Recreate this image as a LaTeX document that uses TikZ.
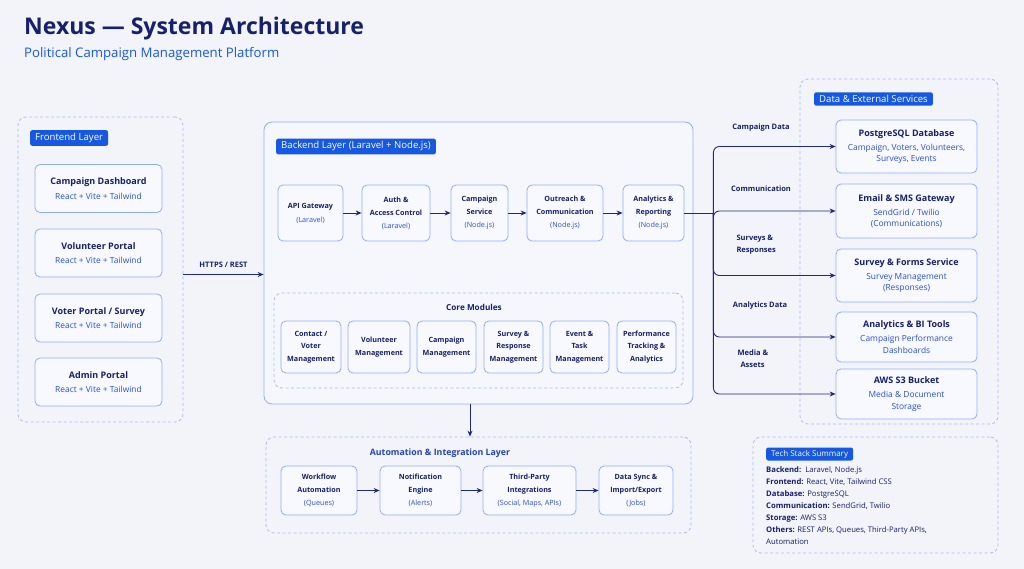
\documentclass[tikz,border=0pt]{standalone}
\usepackage{fontspec}
\setmainfont{Open Sans}
\usetikzlibrary{arrows.meta,calc}
\definecolor{navy}{HTML}{16206B}
\definecolor{accent}{HTML}{1758E2}
\definecolor{bordr}{HTML}{8EAEF4}
\definecolor{dashc}{HTML}{A6BEF3}
\definecolor{bg}{HTML}{F3F4FA}
\definecolor{boxfill}{HTML}{F8F9FE}
\definecolor{subblue}{HTML}{2A4FD6}
\definecolor{arrowc}{HTML}{1E2A78}
\tikzset{
  card/.style={draw=bordr, line width=0.8pt, rounded corners=5pt, fill=boxfill, align=center, inner sep=1pt, text=navy},
  region/.style={draw=dashc, line width=0.8pt, dash pattern=on 3pt off 2.5pt, rounded corners=8pt},
  solidregion/.style={draw=bordr, line width=0.8pt, rounded corners=8pt},
  tag/.style={fill=accent, text=white, rounded corners=2pt, font=\fontsize{9.6}{11}\selectfont, inner xsep=5pt, inner ysep=3pt, anchor=west},
  arr/.style={draw=arrowc, line width=0.9pt, -{Stealth[length=6pt,width=5pt]}},
  lbl/.style={text=navy, font=\fontsize{7.5}{12}\selectfont\bfseries, align=left},
  svc/.style={card, font=\fontsize{7.2}{13}\selectfont},
  mod/.style={card, font=\fontsize{7.2}{12.5}\selectfont},
}
\newcommand{\ttl}[1]{{\fontsize{9}{13}\selectfont\bfseries #1}}
\newcommand{\sub}[1]{{\fontsize{8.4}{13}\selectfont\color{subblue}#1}}
\newcommand{\bl}[1]{{\color{subblue}#1}}
\begin{document}
\begin{tikzpicture}[x=1pt,y=-1pt]
\useasboundingbox[fill=bg] (0,0) rectangle (1024,569);
% titles
\node[anchor=base west, inner sep=0, text=navy, font=\fontsize{23}{27}\selectfont\bfseries] (title) at (24,35) {Nexus — System Architecture};
\node[anchor=base west, inner sep=0, text=accent, font=\fontsize{13.2}{15}\selectfont] (subtitle) at (24,58) {Political Campaign Management Platform};

% regions
\node[region, minimum width=165, minimum height=305] (front) at (100.5,269.5) {};
\node[solidregion, fill=boxfill!60!bg, minimum width=429, minimum height=282] (back) at (478.5,263) {};
\node[region, minimum width=409, minimum height=95] (core) at (478.5,340.5) {};
\node[region, minimum width=425, minimum height=96] (auto) at (478.5,485) {};
\node[region, minimum width=198, minimum height=345] (data) at (899,251.5) {};
\node[region, minimum width=245, minimum height=116] (tech) at (875.5,495) {};

% tags
\node[tag] (ftag) at (30,138) {Frontend Layer};
\node[tag] (btag) at (276,146.5) {Backend Layer (Laravel + Node.js)};
\node[tag] (dtag) at (814,99) {Data \& External Services};
\node[tag, font=\fontsize{8}{9}\selectfont, inner ysep=2.5pt] (ttag) at (766,454) {Tech Stack Summary};

% frontend cards
\foreach \n/\y/\t in {fe1/188.5/{Campaign Dashboard}, fe2/253/{Volunteer Portal}, fe3/318/{Voter Portal / Survey}, fe4/382/{Admin Portal}}{
  \node[card, minimum width=127, minimum height=48] (\n) at (98.5,\y) {\ttl{\t}\\[2.5pt]\sub{React + Vite + Tailwind}};
}

% backend services
\node[svc, minimum width=65, minimum height=56] (api) at (310.5,213) {\textbf{API Gateway}\\[1pt]\bl{(Laravel)}};
\node[svc, minimum width=68, minimum height=56] (auth) at (396,213) {\textbf{Auth \&}\\\textbf{Access Control}\\\bl{(Laravel)}};
\node[svc, minimum width=57, minimum height=56] (camp) at (479.5,213) {\textbf{Campaign}\\\textbf{Service}\\\bl{(Node.js)}};
\node[svc, minimum width=76, minimum height=56] (outr) at (565,213) {\textbf{Outreach \&}\\\textbf{Communication}\\\bl{(Node.js)}};
\node[svc, minimum width=61, minimum height=56] (anal) at (653.5,213) {\textbf{Analytics \&}\\\textbf{Reporting}\\\bl{(Node.js)}};
\draw[arr] (api) -- (auth);
\draw[arr] (auth) -- (camp);
\draw[arr] (camp) -- (outr);
\draw[arr] (outr) -- (anal);

% core modules
\node[text=navy, font=\fontsize{8.2}{10}\selectfont\bfseries] (coretitle) at (474,307) {Core Modules};
\node[mod, minimum width=60, minimum height=52] (m1) at (311,347) {\textbf{Contact /}\\\textbf{Voter}\\\textbf{Management}};
\node[mod, minimum width=62, minimum height=52] (m2) at (379,347) {\textbf{Volunteer}\\\textbf{Management}};
\node[mod, minimum width=59, minimum height=52] (m3) at (446.5,347) {\textbf{Campaign}\\\textbf{Management}};
\node[mod, minimum width=59, minimum height=52] (m4) at (513.5,347) {\textbf{Survey \&}\\\textbf{Response}\\\textbf{Management}};
\node[mod, minimum width=59, minimum height=52] (m5) at (579.5,347) {\textbf{Event \&}\\\textbf{Task}\\\textbf{Management}};
\node[mod, minimum width=59, minimum height=52] (m6) at (646.5,347) {\textbf{Performance}\\\textbf{Tracking \&}\\\textbf{Analytics}};

% automation
\node[text=subblue!75!navy, font=\fontsize{8.8}{10}\selectfont\bfseries] (autotitle) at (440,453) {Automation \& Integration Layer};
\node[svc, minimum width=76, minimum height=49] (a1) at (319,490.5) {\textbf{Workflow}\\\textbf{Automation}\\\bl{(Queues)}};
\node[svc, minimum width=81, minimum height=49] (a2) at (420.5,490.5) {\textbf{Notification}\\\textbf{Engine}\\\bl{(Alerts)}};
\node[svc, minimum width=93, minimum height=49] (a3) at (529.5,490.5) {\textbf{Third-Party}\\\textbf{Integrations}\\\bl{(Social, Maps, APIs)}};
\node[svc, minimum width=74, minimum height=49] (a4) at (636,490.5) {\textbf{Data Sync \&}\\\textbf{Import/Export}\\\bl{(Jobs)}};
\draw[arr] (a1) -- (a2);
\draw[arr] (a2) -- (a3);
\draw[arr] (a3) -- (a4);

% data services
\node[card, minimum width=141, minimum height=53] (pg) at (906.5,146.5) {\ttl{PostgreSQL Database}\\[2pt]\sub{Campaign, Voters, Volunteers,}\\[-0.5pt]\sub{Surveys, Events}};
\node[card, minimum width=141, minimum height=54] (mail) at (906.5,211) {\ttl{Email \& SMS Gateway}\\[2pt]\sub{SendGrid / Twilio}\\[-0.5pt]\sub{(Communications)}};
\node[card, minimum width=141, minimum height=53] (surv) at (906.5,275.5) {\ttl{Survey \& Forms Service}\\[2pt]\sub{Survey Management}\\[-0.5pt]\sub{(Responses)}};
\node[card, minimum width=141, minimum height=50] (bi) at (906.5,337) {\ttl{Analytics \& BI Tools}\\[2pt]\sub{Campaign Performance}\\[-0.5pt]\sub{Dashboards}};
\node[card, minimum width=141, minimum height=50] (s3) at (906.5,394) {\ttl{AWS S3 Bucket}\\[2pt]\sub{Media \& Document}\\[-0.5pt]\sub{Storage}};

% connectors
\draw[arr] ([yshift=-5]front.east) -- ([yshift=-5]front.east -| back.west) node[midway, above=3pt, lbl] (https) {HTTPS / REST};
\draw[arr] ([xshift=-8.5]back.south) -- ([xshift=-8.5]back.south |- auto.north);
\coordinate (fork) at ($(anal.east)+(29,0)$);
\draw[arrowc, line width=0.9pt] (anal.east) -- (fork);
\foreach \t in {pg,mail,surv,bi,s3}{
  \draw[arr, rounded corners=6pt] (fork) |- (\t.west);
}
\node[lbl, anchor=center] (l1) at (761,128) {Campaign Data};
\node[lbl, anchor=center] (l2) at (761,189) {Communication};
\node[lbl, anchor=west] (l3) at (733,245) {Surveys \&\\Responses};
\node[lbl, anchor=center] (l4) at (760,306) {Analytics Data};
\node[lbl, anchor=west] (l5) at (734,359) {Media \&\\\hspace*{3pt}Assets};

% tech stack
\node[anchor=north west, align=left, text=navy, font=\fontsize{7.7}{12.1}\selectfont, inner sep=0] (techtext) at (766,466) {%
\textbf{Backend:}\ \ Laravel, Node.js\\
\textbf{Frontend:} React, Vite, Tailwind CSS\\
\textbf{Database:} PostgreSQL\\
\textbf{Communication:} SendGrid, Twilio\\
\textbf{Storage:} AWS S3\\
\textbf{Others:} REST APIs, Queues, Third-Party APIs,\\
Automation};
\end{tikzpicture}
\end{document}
